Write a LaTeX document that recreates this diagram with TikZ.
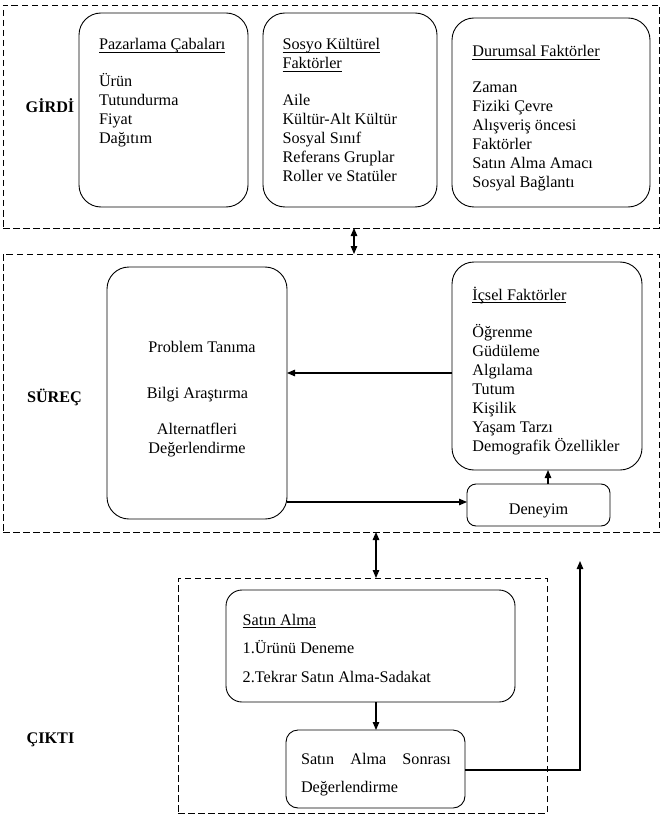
\documentclass[tikz,border=0pt]{standalone}
\usepackage{fontspec}
\setmainfont{Liberation Serif}
\usetikzlibrary{arrows.meta}
\newcommand\hdr[1]{\setbox0\hbox{#1}\rlap{\rule[-2.4pt]{\wd0}{0.75pt}}\box0}

\begin{document}
\begin{tikzpicture}[x=1pt,y=-1pt,
  every node/.style={font=\fontsize{16.2}{19}\selectfont,inner sep=0pt,outer sep=0pt},
  panel/.style={draw,line width=0.9pt,dash pattern=on 6.5pt off 3.5pt},
  card/.style={draw,line width=0.9pt,rounded corners=22pt},
  row/.style={anchor=base west},
  crow/.style={anchor=base},
  sect/.style={anchor=base,font=\fontsize{16.2}{19}\selectfont\bfseries},
  flow/.style={-{Triangle[length=8pt,width=6.5pt]},line width=1.1pt},
  twoway/.style={{Triangle[length=8pt,width=6.5pt]}-{Triangle[length=8pt,width=6.5pt]},line width=1.1pt}]
\useasboundingbox (0,0) rectangle (664,834);
% dashed panels
\node[panel,minimum width=656pt,minimum height=223pt] (girdi) at (331,116.5) {};
\node[panel,minimum width=656pt,minimum height=278pt] (surec) at (331,393) {};
\node[panel,minimum width=369pt,minimum height=235pt] (cikti) at (362.5,695.5) {};
\node[sect] (lg) at (50,113) {GİRDİ};
\node[sect] (ls) at (54.5,402) {SÜREÇ};
\node[sect] (lc) at (50.5,743) {ÇIKTI};
% girdi cards
\node[card,minimum width=169pt,minimum height=194pt] (pz) at (163.5,110) {};
\node[card,minimum width=174pt,minimum height=194pt] (sk) at (350,110) {};
\node[card,minimum width=198pt,minimum height=189pt] (dr) at (551,112.5) {};
\node[row] (pz0) at (99,50) {\hdr{Pazarlama Çabaları}};
\foreach \t [count=\i] in {Ürün,Tutundurma,Fiyat,Dağıtım}
  \node[row] (pz\i) at (99,{87+19*(\i-1)}) {\t};
\node[row] (skh1) at (282.5,50) {\hdr{Sosyo Kültürel}};
\node[row] (skh2) at (282.5,69) {\hdr{Faktörler}};
\foreach \t [count=\i] in {Aile,Kültür-Alt Kültür,Sosyal Sınıf,Referans Gruplar,Roller ve Statüler}
  \node[row] (sk\i) at (282.5,{106+19*(\i-1)}) {\t};
\node[row] (dr0) at (472.4,57) {\hdr{Durumsal Faktörler}};
\foreach \t [count=\i] in {Zaman,Fiziki Çevre,Alışveriş öncesi,Faktörler,Satın Alma Amacı,Sosyal Bağlantı}
  \node[row] (dr\i) at (472.4,{93+19*(\i-1)}) {\t};
% surec
\node[card,minimum width=180pt,minimum height=252pt] (proc) at (197,393) {};
\node[crow] (pr1) at (202,352) {Problem Tanıma};
\node[crow] (pr2) at (197.5,398) {Bilgi Araştırma};
\node[crow] (pr3) at (197,434) {Alternatfleri};
\node[crow] (pr4) at (197,453) {Değerlendirme};
\node[card,minimum width=190pt,minimum height=208pt] (ic) at (547,366) {};
\node[row] (ic0) at (472.4,300) {\hdr{İçsel Faktörler}};
\foreach \t [count=\i] in {Öğrenme,Güdüleme,Algılama,Tutum,Kişilik,Yaşam Tarzı,Demografik Özellikler}
  \node[row] (ic\i) at (472.4,{337+19*(\i-1)}) {\t};
\node[card,rounded corners=9pt,minimum width=143pt,minimum height=42pt] (dn) at (538.5,505) {};
\node[crow] (dnt) at (538.5,514) {Deneyim};
% cikti
\node[card,rounded corners=16pt,minimum width=289pt,minimum height=112pt] (sa) at (370.5,646) {};
\node[row] (sa0) at (242.7,625) {\hdr{Satın Alma}};
\node[row] (sa1) at (242.7,653) {1.Ürünü Deneme};
\node[row] (sa2) at (242.7,682) {2.Tekrar Satın Alma-Sadakat};
\node[card,rounded corners=12pt,minimum width=179pt,minimum height=78pt] (sas) at (375.5,769) {};
\node[row] (sas1) at (301,764) {\makebox[150pt][l]{Satın\hfill Alma\hfill Sonrası}};
\node[row] (sas2) at (301,792) {Değerlendirme};
% connectors
\coordinate (c1) at (354,0);
\coordinate (c2) at (376,0);
\coordinate (c3) at (548,0);
\coordinate (r1) at (0,373);
\coordinate (r2) at (0,502);
\coordinate (r3) at (0,770);
\coordinate (fb) at (580,561);
\draw[twoway] (girdi.south -| c1) -- (surec.north -| c1);
\draw[twoway] (surec.south -| c2) -- (cikti.north -| c2);
\draw[flow] (ic.west |- r1) -- (proc.east |- r1);
\draw[flow] (proc.east |- r2) -- (dn.west |- r2);
\draw[flow] (dn.north -| c3) -- (ic.south -| c3);
\draw[flow] (sa.south -| c2) -- (sas.north -| c2);
\draw[flow] (sas.east |- r3) -| (fb);
\end{tikzpicture}
\end{document}
